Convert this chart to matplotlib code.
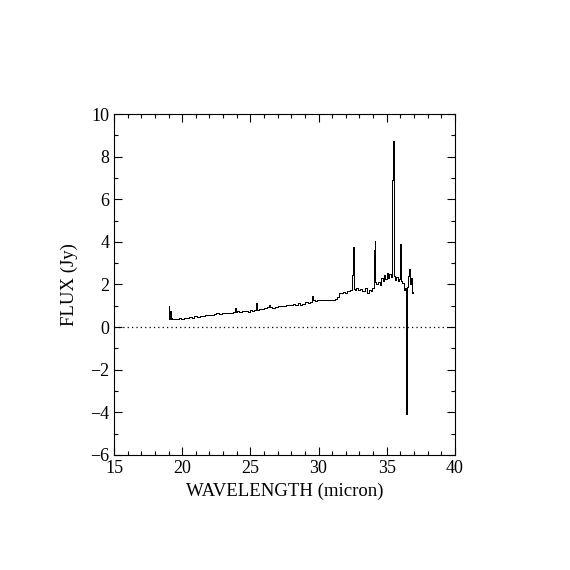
import matplotlib
matplotlib.use("Agg")
import matplotlib.pyplot as plt
from matplotlib.ticker import MultipleLocator

# spectrum
wavelength = [
    19.00, 19.02, 19.05, 19.08, 19.12, 19.18, 19.22, 19.30, 19.40, 19.55,
    19.70, 19.85, 20.00, 20.20, 20.40, 20.60, 20.80, 21.00, 21.20, 21.40,
    21.60, 21.80, 22.00, 22.20, 22.40, 22.60, 22.80, 23.00, 23.20, 23.40,
    23.60, 23.80, 23.90, 23.95, 24.10, 24.30, 24.50, 24.70, 24.90, 25.00,
    25.20, 25.40, 25.45, 25.50, 25.70, 25.90, 26.10, 26.30, 26.40, 26.50,
    26.70, 26.90, 27.10, 27.30, 27.50, 27.70, 27.90, 28.10, 28.20, 28.40,
    28.60, 28.70, 28.90, 29.10, 29.30, 29.50, 29.60, 29.65, 29.80, 30.00,
    30.30, 30.60, 30.90, 31.10, 31.30, 31.45, 31.60, 31.70, 31.85, 32.00,
    32.20, 32.40, 32.52, 32.56, 32.60, 32.70, 32.85, 33.00, 33.15, 33.30,
    33.45, 33.60, 33.75, 33.90, 34.00, 34.10, 34.13, 34.18, 34.30, 34.45,
    34.55, 34.65, 34.75, 34.85, 34.95, 35.05, 35.15, 35.25, 35.35, 35.42,
    35.48, 35.52, 35.56, 35.65, 35.75, 35.85, 35.95, 36.02, 36.08, 36.20,
    36.30, 36.38, 36.45, 36.50, 36.58, 36.65, 36.72, 36.80, 36.88, 36.95,
]
flux = [
    1.00, 0.45, 0.85, 0.40, 0.75, 0.38, 0.42, 0.40, 0.38, 0.40,
    0.38, 0.42, 0.40, 0.45, 0.42, 0.47, 0.45, 0.50, 0.48, 0.52,
    0.54, 0.55, 0.58, 0.56, 0.62, 0.64, 0.62, 0.66, 0.64, 0.67,
    0.66, 0.70, 0.88, 0.72, 0.74, 0.72, 0.76, 0.74, 0.70, 0.78,
    0.76, 0.80, 1.12, 0.82, 0.84, 0.86, 0.90, 0.95, 1.02, 0.95,
    0.92, 0.94, 0.97, 1.00, 0.98, 1.02, 1.05, 1.02, 1.08, 1.04,
    1.12, 1.05, 1.10, 1.16, 1.12, 1.20, 1.48, 1.25, 1.24, 1.26,
    1.25, 1.27, 1.28, 1.27, 1.32, 1.40, 1.62, 1.58, 1.66, 1.62,
    1.70, 1.72, 2.45, 3.78, 1.78, 1.75, 1.82, 1.72, 1.78, 1.70,
    1.82, 1.62, 1.72, 1.68, 1.85, 3.60, 4.05, 2.10, 2.00, 2.10,
    1.98, 2.30, 2.15, 2.45, 2.25, 2.55, 2.30, 2.50, 2.35, 6.90,
    8.75, 7.00, 2.40, 2.20, 2.35, 2.15, 2.25, 3.90, 2.15, 2.05,
    1.75, 1.85, -4.10, 1.90, 2.40, 2.75, 2.00, 2.30, 1.60, 1.65,
]

plt.rcParams['font.family'] = ['Liberation Serif', 'DejaVu Serif']

fig = plt.figure(figsize=(5.7, 5.7), dpi=100)
ax = fig.add_axes([0.2, 0.2018, 0.598, 0.5982])

ax.plot(wavelength, flux, color='k', linewidth=0.72, drawstyle='steps-mid',
        antialiased=False)
ax.axhline(0, color='k', linewidth=0.9, linestyle=(0, (1, 2.5)))

ax.set_xlim(15, 40)
ax.set_ylim(-6, 10)
ax.xaxis.set_major_locator(MultipleLocator(5))
ax.xaxis.set_minor_locator(MultipleLocator(1))
ax.yaxis.set_major_locator(MultipleLocator(2))
ax.yaxis.set_minor_locator(MultipleLocator(1))
ax.tick_params(which='both', direction='in', top=True, right=True,
               labelsize=13, width=0.8)
ax.tick_params(which='major', length=6)
ax.tick_params(which='minor', length=3)
for s in ax.spines.values():
    s.set_linewidth(0.8)

ax.set_xlabel('WAVELENGTH (micron)', fontsize=13.5, labelpad=4)
ax.set_ylabel('FLUX (Jy)', fontsize=13.5, labelpad=9)

fig.savefig('out.png', dpi=100)
